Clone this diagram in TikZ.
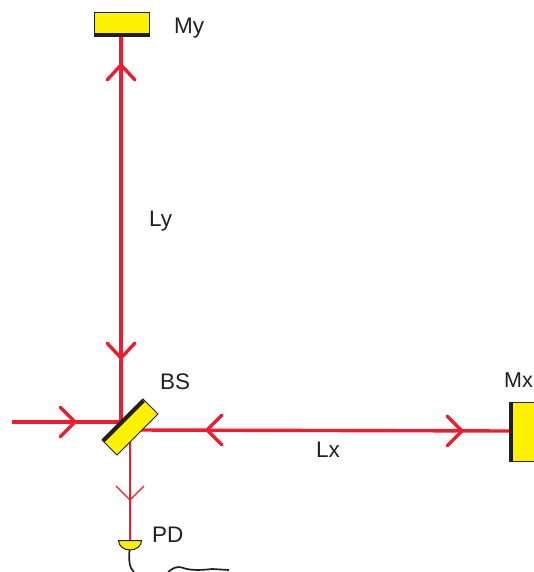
\documentclass[tikz,border=0pt]{standalone}
\usepackage{fontspec}
\setmainfont{Liberation Sans}
\definecolor{beamred}{HTML}{ED1C2E}
\definecolor{optyellow}{HTML}{FFF200}
\definecolor{inkdark}{HTML}{231F20}
\tikzset{
  beam/.style={draw=beamred,line width=3.4pt},
  thinbeam/.style={draw=beamred,line width=1.6pt},
  wing/.style={draw=beamred,line width=3.4pt,line cap=round,line join=miter},
  thinwing/.style={draw=beamred,line width=1.3pt},
  optic/.style={fill=optyellow,draw=inkdark,line width=1pt},
  coat/.style={draw=inkdark,line width=4pt},
  wire/.style={draw=inkdark,line width=1.7pt},
  lab/.style={text=inkdark,font=\fontsize{22.5}{22.5}\selectfont,inner sep=0pt,anchor=base west}
}
\begin{document}
\begin{tikzpicture}[x=1pt,y=-1pt]
\useasboundingbox (0,0) rectangle (533,572);
% anchor points of the optics
\coordinate (myb) at (121,36);
\coordinate (bsv) at (121,422);
\coordinate (in) at (12,422);
\coordinate (bsh) at (135,430);
\coordinate (mxl) at (510,431);
\coordinate (bsd) at (130,440);
\coordinate (pdt) at (130,541);
% beams
\draw[beam] (myb) -- (bsv);
\draw[beam] (in) -- (bsv);
\draw[beam] (bsh) -- (mxl);
\draw[thinbeam] (bsd) -- (pdt);
% arrow wings
\draw[wing] (107,80) -- (121,65) -- (135,80);
\draw[wing] (107,343) -- (121,358) -- (135,343);
\draw[wing] (60,407) -- (75,422) -- (60,437);
\draw[wing] (222,415) -- (207,430) -- (222,445);
\draw[wing] (447,416) -- (462,431) -- (447,446);
\draw[thinwing] (116,486) -- (130,500) -- (144,486);
% mirror y
\path[optic] (94,13) rectangle (149,36);
\draw[coat] (93.5,35) -- (149.5,35);
% mirror x
\path[optic] (510,402) rectangle (535,461);
\draw[coat] (511,401.5) -- (511,461.5);
% beam splitter
\path[optic] (143,399) -- (158,414) -- (117,455) -- (102,440) -- cycle;
\draw[coat] (143.5,400.5) -- (103.5,440.5);
% photodiode
\path[optic] (118.5,540.5) -- (141.5,540.5) arc[start angle=0,end angle=180,x radius=11.5,y radius=9.5] -- cycle;
\draw[wire] (129.5,550) .. controls (129,558) and (129,564) .. (131,568) -- (134,572);
\draw[wire] (168,572) .. controls (173,568) and (177,566) .. (182,567.5) .. controls (190,571) and (203,570) .. (212,569) -- (229,570);
% labels
\node[lab] (lmy) at (174,34) {My};
\node[lab] (lly) at (149,226) {Ly};
\node[lab] (lbs) at (160,389) {BS};
\node[lab,font=\fontsize{21.5}{21.5}\selectfont] (lmx) at (504,387) {Mx};
\node[lab] (llx) at (316,457) {Lx};
\node[lab] (lpd) at (152,542) {PD};
\end{tikzpicture}
\end{document}
